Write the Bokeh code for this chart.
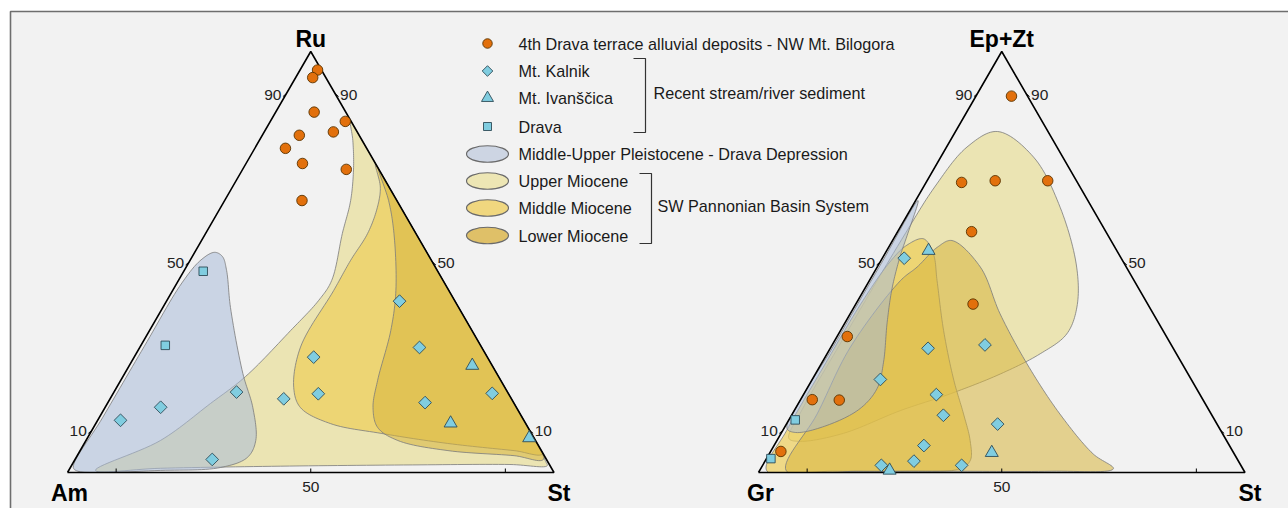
import numpy as np
from bokeh.plotting import figure
from bokeh.models import Range1d
from bokeh.core.properties import value
from bokeh.embed import file_html
from bokeh.resources import INLINE

FONT = "Liberation Sans"

# ---------------- sample data (percent of the top apex, percent of the right apex) ----------------
# Left diagram: Ru (top) - Am (left) - St (right)
BILOGORA_L_RU = [95.6, 93.8, 85.6, 83.4, 80.9, 80.1, 77.0, 73.4, 72.0, 64.6]
BILOGORA_L_ST = [3.6, 3.5, 7.9, 15.4, 14.2, 7.6, 6.3, 11.6, 21.3, 15.9]
KALNIK_L_RU = [40.7, 29.7, 27.4, 19.1, 17.5, 18.7, 18.8, 16.6, 15.5, 12.4, 3.1]
KALNIK_L_ST = [47.9, 57.5, 36.9, 25.2, 35.7, 42.2, 77.9, 65.2, 11.4, 4.7, 28.2]
IVANSCICA_L_RU = [25.4, 11.7, 8.2]
IVANSCICA_L_ST = [70.5, 72.9, 90.8]
DRAVA_L_RU = [47.8, 30.2]
DRAVA_L_ST = [4.0, 5.0]

# Right diagram: Ep+Zt (top) - Gr (left) - St (right)
BILOGORA_R_EZ = [89.4, 68.9, 69.3, 69.3, 57.2, 40.0, 32.3, 17.3, 17.2, 5.0]
BILOGORA_R_ST = [7.3, 7.3, 14.0, 24.8, 15.2, 24.1, 2.1, 2.4, 8.0, 2.1]
KALNIK_R_EZ = [50.9, 29.5, 30.3, 22.1, 18.5, 13.6, 11.5, 6.4, 2.7, 1.7, 1.7]
KALNIK_R_ST = [4.5, 20.1, 31.4, 14.0, 27.3, 31.2, 43.4, 30.8, 30.6, 24.4, 40.9]
IVANSCICA_R_EZ = [52.7, 4.7, 0.5]
IVANSCICA_R_ST = [8.6, 45.6, 26.7]
DRAVA_R_EZ = [12.5, 3.3]
DRAVA_R_ST = [1.3, 0.9]

# ---------------- field outlines (top %, right %) ----------------
PLEIST_L = [(52.3, 4.1), (51.3, 6.2), (48.0, 8.7), (39.2, 13.9), (23.5, 24.3), (15.4, 30.4),
            (7.6, 34.9), (3.6, 35.2), (1.2, 30.9), (0.5, 18.9), (0.3, 2.0), (1.2, 0.6),
            (13.0, 0.7), (30.0, 0.8), (45.0, 1.0), (50.5, 2.2)]
UPPER_L = [(83.6, 16.4), (70.0, 30.0), (50.0, 50.0), (30.0, 70.0), (10.0, 90.0), (2.6, 97.0),
           (1.6, 97.8), (1.9, 90.0), (1.8, 70.0), (1.5, 43.0), (1.0, 18.6), (0.5, 5.5),
           (7.6, 15.3), (16.4, 21.2), (22.8, 25.2), (33.7, 29.0), (40.9, 31.2), (45.6, 31.5),
           (56.8, 28.1), (64.6, 25.9), (72.4, 22.6), (78.9, 19.2)]
MIDDLE_L = [(73.4, 26.6), (67.8, 30.4), (63.0, 32.2), (56.8, 33.3), (50.4, 33.0), (43.2, 33.1),
            (29.8, 33.0), (20.2, 36.4), (15.4, 40.2), (11.6, 48.3), (9.3, 59.8), (6.9, 74.7),
            (5.2, 89.2), (4.5, 95.5), (20.0, 80.0), (40.0, 60.0), (60.0, 40.0)]
LOWER_L = [(72.2, 27.8), (64.6, 33.7), (56.8, 38.7), (43.2, 45.9), (33.7, 49.6), (21.9, 52.8),
           (15.4, 55.1), (10.7, 58.4), (7.6, 64.1), (5.2, 75.6), (4.0, 89.8), (3.2, 96.3),
           (20.0, 80.0), (40.0, 60.0), (60.0, 40.0)]

PLEIST_R = [(64.6, 0.5), (56.3, 2.4), (51.5, 3.4), (43.7, 5.6), (35.7, 8.6), (26.2, 12.6),
            (20.0, 14.4), (15.2, 13.3), (11.2, 8.5), (9.5, 2.9), (10.5, 0.6), (30.0, 0.4),
            (50.0, 0.4)]
UPPER_R = [(81.0, 8.6), (74.9, 19.1), (63.0, 30.5), (48.8, 41.0), (39.3, 45.8), (32.9, 46.9),
           (28.2, 43.8), (23.4, 38.0), (18.7, 30.1), (14.7, 21.8), (9.3, 12.8), (7.4, 4.9),
           (8.1, 2.2), (15.0, 1.5), (30.0, 1.5), (45.0, 1.6), (57.0, 1.8), (67.8, 2.3),
           (77.3, 4.2)]
MIDDLE_R = [(55.5, 6.2), (51.9, 10.0), (45.6, 13.9), (33.7, 21.2), (21.9, 29.2), (13.9, 35.2),
            (7.6, 39.7), (2.9, 42.1), (0.9, 41.0), (0.3, 30.0), (0.3, 15.0), (0.4, 1.5),
            (10.0, 0.8), (25.0, 0.8), (40.0, 1.0), (50.0, 2.0), (54.0, 3.5)]
LOWER_R = [(55.1, 12.2), (48.8, 21.2), (37.7, 30.8), (25.8, 42.3), (13.9, 55.0), (4.4, 66.6),
           (0.9, 72.5), (0.3, 60.0), (0.3, 40.0), (0.3, 20.0), (0.4, 5.5), (13.9, 5.1),
           (29.8, 4.0), (45.6, 6.4), (48.8, 8.2), (53.5, 10.0)]

LEGEND_POINTS = ["4th Drava terrace alluvial deposits - NW Mt. Bilogora", "Mt. Kalnik",
                 "Mt. Ivanščica", "Drava"]
LEGEND_FIELDS = ["Middle-Upper Pleistocene - Drava Depression", "Upper Miocene",
                 "Middle Miocene", "Lower Miocene"]
GROUP_1 = "Recent stream/river sediment"
GROUP_2 = "SW Pannonian Basin System"

# ---------------- styling ----------------
ORANGE, ORANGE_LINE = "#e2700c", "#5a3300"
CYAN, CYAN_LINE = "#80cde0", "#2e4c58"
FIELD_LINE = "#7c7c7c"
FIELD_STYLE = {
    "pleist": ("#aabcd8", 0.55),
    "upper": ("#e6dc91", 0.65),
    "middle": ("#eecf5a", 0.70),
    "lower": ("#d7b43c", 0.55),
}
LEGEND_FILL = {"pleist": "#cdd5e3", "upper": "#ede6b4", "middle": "#f0d77f", "lower": "#dfc068"}
TEXT_SIZE = "16.2px"
TICK_SIZE = "15.5px"

BASE_Y, HEIGHT, SIDE = 472.0, 421.0, 486.5
LEFT_X0, RIGHT_X0 = 67.0, 758.0


def to_xy(top, right, x0):
    top = np.asarray(top, float)
    right = np.asarray(right, float)
    x = x0 + SIDE * (right + top / 2.0) / 100.0
    y = BASE_Y - HEIGHT * top / 100.0
    return x, y


def to_tern(x, y, x0):
    top = (BASE_Y - y) / HEIGHT * 100.0
    right = (x - x0) / SIDE * 100.0 - top / 2.0
    return top, right


def smooth_closed(px, py, n=14):
    """Centripetal Catmull-Rom through a closed ring of points."""
    P = np.column_stack([px, py])
    m = len(P)
    out = []
    for i in range(m):
        p0, p1, p2, p3 = P[i - 1], P[i], P[(i + 1) % m], P[(i + 2) % m]

        def tj(ti, a, b):
            return ti + max(np.linalg.norm(b - a), 1e-6) ** 0.5
        t0 = 0.0
        t1 = tj(t0, p0, p1)
        t2 = tj(t1, p1, p2)
        t3 = tj(t2, p2, p3)
        t = np.linspace(t1, t2, n, endpoint=False)[:, None]
        a1 = (t1 - t) / (t1 - t0) * p0 + (t - t0) / (t1 - t0) * p1
        a2 = (t2 - t) / (t2 - t1) * p1 + (t - t1) / (t2 - t1) * p2
        a3 = (t3 - t) / (t3 - t2) * p2 + (t - t2) / (t3 - t2) * p3
        b1 = (t2 - t) / (t2 - t0) * a1 + (t - t0) / (t2 - t0) * a2
        b2 = (t3 - t) / (t3 - t1) * a2 + (t - t1) / (t3 - t1) * a3
        out.append((t2 - t) / (t2 - t1) * b1 + (t - t1) / (t2 - t1) * b2)
    c = np.vstack(out)
    return c[:, 0], c[:, 1]


def field_xy(outline, x0):
    tops = [p[0] for p in outline]
    rights = [p[1] for p in outline]
    x, y = to_xy(tops, rights, x0)
    sx, sy = smooth_closed(x, y)
    # keep the smoothed outline inside the triangle
    t, r = to_tern(sx, sy, x0)
    t = np.clip(t, 0, 100)
    r = np.clip(r, 0, 100)
    s = t + r
    over = s > 100
    t[over] *= 100 / s[over]
    r[over] *= 100 / s[over]
    return to_xy(t, r, x0)


p = figure(width=1288, height=508, x_range=Range1d(0, 1288), y_range=Range1d(508, 0),
           output_backend="svg", toolbar_location=None, min_border=0,
           x_axis_location=None, y_axis_location=None,
           background_fill_color="white", border_fill_color="white", outline_line_color=None)
p.grid.visible = False

# panel background with its grey border
p.quad(left=[10], right=[1400], top=[11], bottom=[620], fill_color="#f2f2f2",
       line_color="#6e6e6e", line_width=1.6)


def draw_fields(fields, x0):
    for key, outline in fields:
        fx, fy = field_xy(outline, x0)
        col, alpha = FIELD_STYLE[key]
        p.patch(fx, fy, fill_color=col, fill_alpha=alpha, line_color=FIELD_LINE,
                line_width=0.9, line_alpha=0.9)


def draw_triangle(x0, labels):
    vx, vy = to_xy([0, 0, 100, 0], [0, 100, 0, 0], x0)
    p.line(vx, vy, line_color="black", line_width=1.6)
    # ticks at 10, 50, 90 on the three sides
    for v in (10, 50, 90):
        lx, ly = to_xy([v], [0], x0)
        p.segment(lx, ly, lx - 3.5, ly + 3.0, line_color="black", line_width=1)
        p.text(lx - 5, ly + 1, text=[str(v)], text_align="right", text_baseline="middle",
               text_font=value(FONT), text_font_size=TICK_SIZE, text_color="#222222")
        rx, ry = to_xy([v], [100 - v], x0)
        p.segment(rx, ry, rx + 3.5, ry + 3.0, line_color="black", line_width=1)
        p.text(rx + 5, ry + 1, text=[str(v)], text_align="left", text_baseline="middle",
               text_font=value(FONT), text_font_size=TICK_SIZE, text_color="#222222")
        bx, by = to_xy([0], [v], x0)
        p.segment(bx, by, bx, by - 4, line_color="black", line_width=1)
    bx, by = to_xy([0], [50], x0)
    p.text(bx, by + 14, text=["50"], text_align="center", text_baseline="middle",
           text_font=value(FONT), text_font_size=TICK_SIZE, text_color="#222222")
    top_lbl, left_lbl, right_lbl = labels
    tx, ty = to_xy([100], [0], x0)
    p.text(tx, ty - 13, text=[top_lbl], text_align="center", text_baseline="middle",
           text_font=value(FONT), text_font_style="bold", text_font_size="23px", text_color="black")
    ax, ay = to_xy([0, 0], [0, 100], x0)
    p.text(ax + np.array([2.0, 5.0]), ay + 20, text=[left_lbl, right_lbl], text_align="center",
           text_baseline="middle", text_font=value(FONT), text_font_style="bold",
           text_font_size="23px", text_color="black")


def draw_samples(groups, x0):
    for tops, rights, kind in groups:
        x, y = to_xy(tops, rights, x0)
        if kind == "circle":
            p.scatter(x, y, marker="circle", size=10.5, fill_color=ORANGE,
                      line_color=ORANGE_LINE, line_width=0.9)
        elif kind == "diamond":
            p.scatter(x, y, marker="square", angle=np.pi / 4, size=9, fill_color=CYAN,
                      line_color=CYAN_LINE, line_width=0.9)
        elif kind == "triangle":
            p.scatter(x, y, marker="triangle", size=13, fill_color=CYAN,
                      line_color=CYAN_LINE, line_width=0.9)
        else:
            p.scatter(x, y, marker="square", size=8.5, fill_color=CYAN,
                      line_color=CYAN_LINE, line_width=0.9)


# left diagram
draw_fields([("upper", UPPER_L), ("middle", MIDDLE_L), ("lower", LOWER_L), ("pleist", PLEIST_L)],
            LEFT_X0)
draw_triangle(LEFT_X0, ("Ru", "Am", "St"))
draw_samples([(BILOGORA_L_RU, BILOGORA_L_ST, "circle"), (KALNIK_L_RU, KALNIK_L_ST, "diamond"),
              (IVANSCICA_L_RU, IVANSCICA_L_ST, "triangle"), (DRAVA_L_RU, DRAVA_L_ST, "square")],
             LEFT_X0)

# right diagram
draw_fields([("upper", UPPER_R), ("middle", MIDDLE_R), ("lower", LOWER_R), ("pleist", PLEIST_R)],
            RIGHT_X0)
draw_triangle(RIGHT_X0, ("Ep+Zt", "Gr", "St"))
draw_samples([(BILOGORA_R_EZ, BILOGORA_R_ST, "circle"), (KALNIK_R_EZ, KALNIK_R_ST, "diamond"),
              (IVANSCICA_R_EZ, IVANSCICA_R_ST, "triangle"), (DRAVA_R_EZ, DRAVA_R_ST, "square")],
             RIGHT_X0)

# legend
LX, TX = 487.0, 518.0
ROW_Y = [43, 70.5, 97.5, 126, 153.5, 180.5, 207.5, 235]
p.scatter([LX], [ROW_Y[0]], marker="circle", size=9.5, fill_color=ORANGE, line_color=ORANGE_LINE,
          line_width=0.9)
p.scatter([LX], [ROW_Y[1]], marker="square", angle=np.pi / 4, size=7.5, fill_color=CYAN,
          line_color=CYAN_LINE, line_width=0.9)
p.scatter([LX], [ROW_Y[2]], marker="triangle", size=12, fill_color=CYAN, line_color=CYAN_LINE,
          line_width=0.9)
p.scatter([LX], [ROW_Y[3]], marker="square", size=8, fill_color=CYAN, line_color=CYAN_LINE,
          line_width=0.9)
for key, yy in zip(["pleist", "upper", "middle", "lower"], ROW_Y[4:]):
    p.ellipse([LX], [yy], width=42, height=16.5, fill_color=LEGEND_FILL[key],
              line_color="#6a6a6a", line_width=1.2)
p.text([TX] * 8, ROW_Y, text=LEGEND_POINTS + LEGEND_FIELDS, text_align="left",
       text_baseline="middle", text_font=value(FONT), text_font_size=TEXT_SIZE,
       text_color="#1a1a1a")

# group brackets
p.line([633, 645, 645, 633], [58, 58, 132, 132], line_color="#333333", line_width=1.2)
p.line([639, 651, 651, 639], [173, 173, 243, 243], line_color="#333333", line_width=1.2)
p.text([653, 657], [92.5, 205.5], text=[GROUP_1, GROUP_2], text_align="left",
       text_baseline="middle", text_font=value(FONT), text_font_size=TEXT_SIZE,
       text_color="#1a1a1a")

open("out.html", "w").write(file_html(p, INLINE))
